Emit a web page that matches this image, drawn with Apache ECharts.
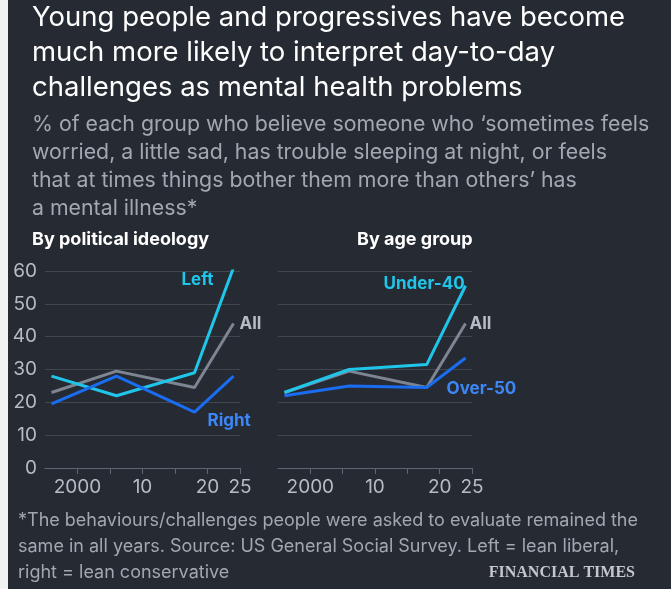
<!DOCTYPE html>
<html><head><meta charset="utf-8">
<script src="https://cdn.jsdelivr.net/npm/echarts@6/dist/echarts.min.js"></script>
<style>html,body{margin:0;background:#f2f2f2}#c{position:absolute;left:8px;top:0;width:663px;height:589px;background:#262a33}</style>
</head><body><div id="c"></div>
<script>
// survey years
var years = [1996, 2006, 2018, 2024];
var xTicks = [2000, 2010, 2020, 2025];

// by political ideology
var leftVals = [28, 22, 29, 61];
var allVals = [23, 29.5, 24.5, 44];
var rightVals = [19.5, 28, 17, 28];

// by age group
var under40Vals = [23, 30, 31.5, 55.5];
var over50Vals = [22, 25, 24.5, 33.5];

var CYAN = '#20c6ea', GREY = '#7c8591', BLUE = '#1a6cf0';

function pts(vals) {
    return vals.map(function (v, i) { return [years[i], v]; });
}

function xAxis(idx) {
    return {
        gridIndex: idx, type: 'value', min: 1995, max: 2025, interval: 5,
        axisLine: {show: true, lineStyle: {color: '#5e6470'}},
        axisTick: {show: true, length: 6, lineStyle: {color: '#5e6470'}, customValues: [2000, 2005, 2010, 2015, 2020, 2025]},
        splitLine: {show: false},
        axisLabel: {
            color: '#b7bcc4', fontSize: 19, fontFamily: 'Inter', margin: 10,
            customValues: xTicks,
            formatter: function (v) { return v === 2000 ? '2000' : String(v % 100); }
        }
    };
}

function yAxis(idx, labels) {
    return {
        gridIndex: idx, type: 'value', min: 0, max: 60, interval: 10,
        axisLine: {show: false}, axisTick: {show: false},
        splitLine: {lineStyle: {color: '#41464f'}},
        axisLabel: {show: labels, color: '#b7bcc4', fontSize: 19, fontFamily: 'Inter', margin: 8}
    };
}

function line(name, vals, color, g, label, lpos, xIdx) {
    return {
        type: 'line', name: name, xAxisIndex: g, yAxisIndex: g, data: pts(vals),
        symbol: 'none', lineStyle: {color: color, width: 3}, z: color === GREY ? 2 : 3,
        endLabel: {
            show: true, formatter: label, color: color === GREY ? '#b7bcc4' : (color === BLUE ? '#3d86f5' : color),
            fontSize: 17, fontWeight: 'bold', fontFamily: 'Inter', offset: lpos || [2, 0]
        }
    };
}

var chart = echarts.init(document.getElementById('c'));
chart.setOption({
    backgroundColor: '#262a33',
    animation: false,
    grid: [
        {left: 37, top: 271, width: 195, height: 197},
        {left: 270, top: 271, width: 194, height: 197}
    ],
    xAxis: [xAxis(0), xAxis(1)],
    yAxis: [yAxis(0, true), yAxis(1, false)],
    series: [
        line('All', allVals, GREY, 0, 'All', [-2, 0]),
        line('Left', leftVals, CYAN, 0, 'Left', [-60, 12]),
        line('Right', rightVals, BLUE, 0, 'Right', [-34, 45]),
        line('All', allVals, GREY, 1, 'All', [-4, 0]),
        line('Under-40', under40Vals, CYAN, 1, 'Under-40', [-90, -2]),
        line('Over-50', over50Vals, BLUE, 1, 'Over-50', [-27, 31])
    ],
    graphic: [
        {type: 'text', left: 24, top: 0, style: {
            text: 'Young people and progressives have become\nmuch more likely to interpret day-to-day\nchallenges as mental health problems',
            fill: '#ffffff', font: '27.5px Inter', lineHeight: 35}},
        {type: 'text', left: 24, top: 111, style: {
            text: '% of each group who believe someone who \u2018sometimes feels\nworried, a little sad, has trouble sleeping at night, or feels\nthat at times things bother them more than others\u2019 has\na mental illness*',
            fill: '#a3a8b0', font: '21.3px Inter', lineHeight: 28}},
        {type: 'text', left: 24, top: 231, style: {text: 'By political ideology', fill: '#ffffff', font: 'bold 18px Inter'}},
        {type: 'text', left: 349, top: 231, style: {text: 'By age group', fill: '#ffffff', font: 'bold 18px Inter'}},
        {type: 'text', left: 10, top: 508, style: {
            text: '*The behaviours/challenges people were asked to evaluate remained the\nsame in all years. Source: US General Social Survey. Left = lean liberal,\nright = lean conservative',
            fill: '#a3a8b0', font: '18px Inter', lineHeight: 26}},
        {type: 'text', right: 36, top: 565, style: {text: 'FINANCIAL TIMES', fill: '#c4c7cc', font: 'bold 16px "Liberation Serif"'}}
    ]
});
</script>
</body></html>
